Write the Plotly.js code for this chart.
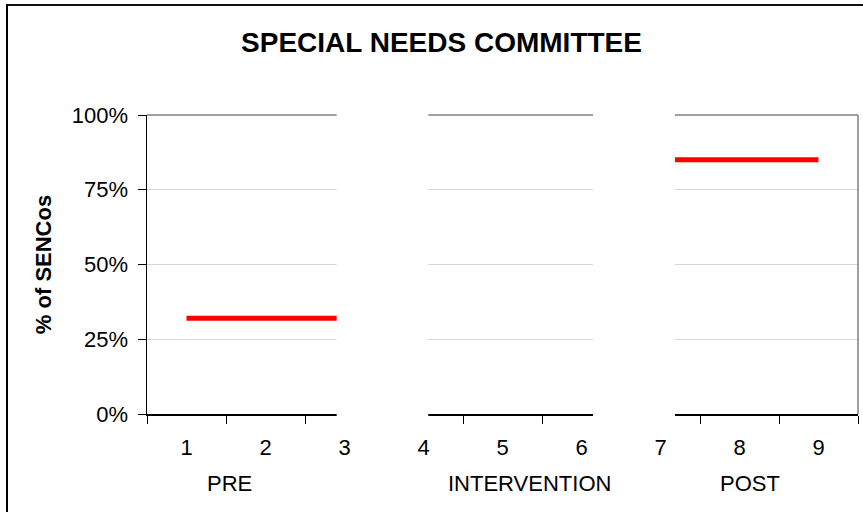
<!DOCTYPE html>
<html>
<head>
<meta charset="utf-8">
<script src="https://cdn.plot.ly/plotly-3.0.1.min.js"></script>
<style>
  html, body { margin: 0; padding: 0; background: #fff; }
  #wrap { position: relative; width: 863px; height: 512px; overflow: hidden; }
  #chart { width: 863px; height: 512px; }
  #frame { position: absolute; left: 6px; top: 4px; width: 1000px; height: 700px;
           border-left: 2px solid #000; border-top: 2px solid #111; pointer-events: none; }
</style>
</head>
<body>
<div id="wrap">
  <div id="chart"></div>
  <div id="frame"></div>
</div>
<script>
// ---- data ----
const categories = ['1', '2', '3', '4', '5', '6', '7', '8', '9'];
const senCoShare = [0.32, 0.32, 0.32, null, null, null, 0.85, 0.85, 0.85];
const phaseLabels = ['PRE', 'INTERVENTION', 'POST'];
const yTickVals = [0, 0.25, 0.5, 0.75, 1];
const chartTitle = 'SPECIAL NEEDS COMMITTEE';
const yTitle = '% of SENCos';

// ---- styling / layout ----
const FONT = 'Liberation Sans, Arial, sans-serif';
const phaseLabelX = [0.1167, 0.538, 0.8481];   // paper positions of the phase captions
const gaps = [[0.2668, 0.3956], [0.6273, 0.7426]]; // blanked panel gaps (paper)

const trace = {
  type: 'scatter',
  mode: 'lines',
  x: categories,
  y: senCoShare,
  line: { color: '#ff0000', width: 5 },
  connectgaps: false,
  hoverinfo: 'skip',
  showlegend: false
};

const shapes = [
  { type: 'line', xref: 'paper', yref: 'paper', x0: 0, x1: 1, y0: 1, y1: 1,
    line: { color: '#808080', width: 1.5 }, layer: 'above' },
  { type: 'line', xref: 'paper', yref: 'paper', x0: 1, x1: 1, y0: 0, y1: 1,
    line: { color: '#808080', width: 1.5 }, layer: 'above' }
];
gaps.forEach(g => shapes.push({
  type: 'rect', xref: 'paper', yref: 'paper', x0: g[0], x1: g[1], y0: -0.035, y1: 1.01,
  fillcolor: '#ffffff', line: { width: 0 }, layer: 'above'
}));

const annotations = phaseLabels.map((t, i) => ({
  text: t, xref: 'paper', yref: 'paper', x: phaseLabelX[i], y: -0.2324,
  xanchor: 'center', yanchor: 'middle', showarrow: false,
  font: { family: FONT, size: 22, color: '#000' }
}));

const layout = {
  width: 863, height: 512,
  margin: { l: 147, r: 5, t: 115, b: 98 },
  paper_bgcolor: '#ffffff', plot_bgcolor: '#ffffff',
  font: { family: FONT, size: 22, color: '#000' },
  title: {
    text: '<b>' + chartTitle + '</b>',
    font: { family: FONT, size: 28, color: '#000' },
    xref: 'container', yref: 'container', x: 0.5116, y: 0.918,
    xanchor: 'center', yanchor: 'middle'
  },
  xaxis: {
    type: 'category', categoryorder: 'array', categoryarray: categories,
    range: [-0.5, 8.5], tickson: 'boundaries',
    ticks: 'outside', ticklen: 8, tickcolor: '#000', tickwidth: 1,
    showline: true, linecolor: '#000', linewidth: 1.5,
    showgrid: false, zeroline: false, fixedrange: true,
    tickfont: { family: FONT, size: 22, color: '#000' },
    ticklabelstandoff: 13
  },
  yaxis: {
    range: [0, 1], tickvals: yTickVals, tickformat: '.0%',
    ticks: 'outside', ticklen: 8, tickcolor: '#000', tickwidth: 1,
    showline: true, linecolor: '#000', linewidth: 1.5,
    showgrid: true, gridcolor: '#d6d6d6', gridwidth: 1,
    zeroline: false, fixedrange: true,
    tickfont: { family: FONT, size: 22, color: '#000' },
    ticklabelstandoff: 5,
    title: { text: '<b>' + yTitle + '</b>', font: { family: FONT, size: 22, color: '#000' }, standoff: 14 }
  },
  shapes: shapes,
  annotations: annotations,
  showlegend: false
};

Plotly.newPlot('chart', [trace], layout, { staticPlot: true, displayModeBar: false });
</script>
</body>
</html>
